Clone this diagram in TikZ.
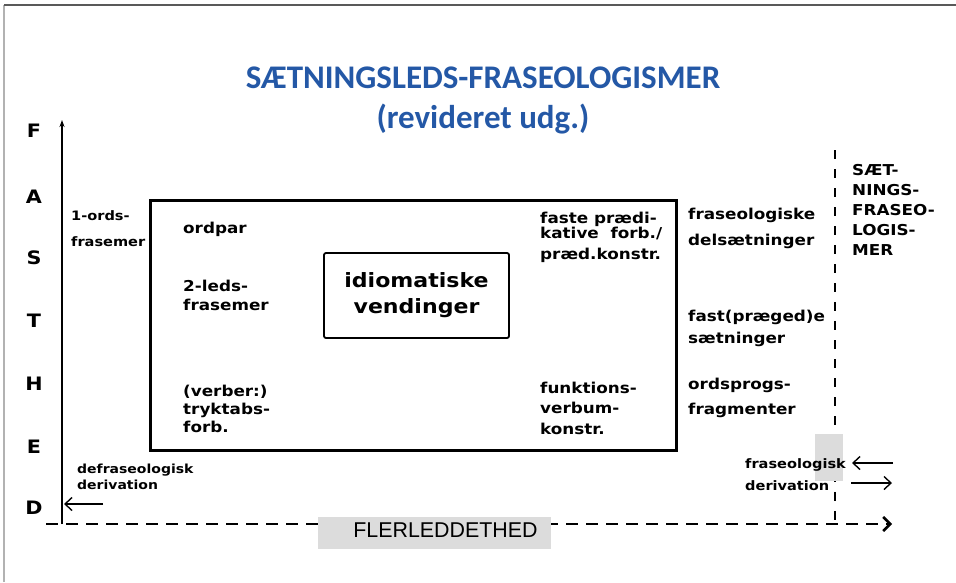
\documentclass[tikz,border=0pt]{standalone}
\usepackage{fontspec}
\setmainfont[FakeStretch=1.12]{DejaVu Sans}
\newfontfamily\titlefont{Carlito}
\newfontfamily\axisfont{Liberation Sans}
\usetikzlibrary{arrows.meta}
\definecolor{titleblue}{RGB}{36,88,166}
\definecolor{boxgray}{RGB}{220,220,220}
\tikzset{
  lbl/.style={anchor=north west, inner sep=0pt, align=left, font=\bfseries\fontsize{15}{19}\selectfont},
  axletter/.style={inner sep=0pt, font=\bfseries\fontsize{18.5}{18.5}\selectfont},
  axisline/.style={line width=2pt},
  dashline/.style={line width=2.6pt, dash pattern=on 12pt off 8pt},
  vdashline/.style={line width=2.8pt, dash pattern=on 9pt off 10pt},
  thinarrow/.style={line width=1.4pt, -{Straight Barb[length=7pt,width=13pt,line width=1.4pt]}},
}
\begin{document}
\begin{tikzpicture}[x=1pt,y=-1pt]
\useasboundingbox (0,0) rectangle (956,582);
% frame
\draw[gray!60, line width=1.5pt] (4,582) -- (4,5);
\draw[black!65, line width=1.5pt] (4,5) -- (956,5);
% title
\node[font=\titlefont\bfseries\fontsize{33}{39.5}\selectfont, text=titleblue, align=center, inner sep=0pt] (title) at (483,100.5) {SÆTNINGSLEDS-FRASEOLOGISMER\\(revideret udg.)};
% axes
\coordinate (origin) at (62,524);
\coordinate (ytop) at (62,120);
\coordinate (xleft) at (46,524);
\coordinate (xright) at (892,524);
\coordinate (vtop) at (835,150);
\coordinate (vbot) at (835,524);
\draw[dashline, -{Straight Barb[length=7pt,width=14pt,line width=2.6pt]}] (xleft) -- (xright);
\draw[vdashline] (vtop) -- (vbot);
\draw[axisline, -{Stealth[length=7pt,width=5pt]}] (origin) -- (ytop);
% FLERLEDDETHED box
\node[fill=boxgray, minimum width=233pt, minimum height=32pt, inner sep=0pt] (flbox) at (434.5,533) {};
\node[font=\axisfont\fontsize{21.4}{21.4}\selectfont, inner sep=0pt] (fltext) at (445.5,530) {FLERLEDDETHED};
% right gray box
\node[fill=boxgray, minimum width=28pt, minimum height=47pt, inner sep=0pt] (rbox) at (829,457.5) {};
% axis letters
\node[axletter] (lF) at (34,131) {F};
\node[axletter] (lA) at (34,197) {A};
\node[axletter] (lS) at (34,258) {S};
\node[axletter] (lT) at (34,321) {T};
\node[axletter] (lH) at (34,384) {H};
\node[axletter] (lE) at (34,447) {E};
\node[axletter] (lD) at (34,508) {D};
% big rectangle
\node[draw, line width=3pt, minimum width=526pt, minimum height=250pt, inner sep=0pt] (bigbox) at (413,325) {};
\node[draw, line width=1.8pt, rounded corners=2pt, minimum width=185pt, minimum height=85pt, inner sep=0pt, align=center, font=\bfseries\fontsize{19.7}{26}\selectfont] (idiom) at (416.5,295.5) {idiomatiske\\vendinger};
% labels
\node[lbl, font=\bfseries\fontsize{13}{26}\selectfont] (ords) at (71,210.5) {1-ords-\\frasemer};
\node[lbl, font=\bfseries\fontsize{12.5}{16}\selectfont] (defr) at (77,463.5) {defraseologisk\\derivation};
\node[lbl] (ordpar) at (183,221.5) {ordpar};
\node[lbl] (leds) at (183,279.5) {2-leds-\\frasemer};
\node[lbl, font=\bfseries\fontsize{15}{18}\selectfont] (verber) at (183,384.5) {(verber:)\\tryktabs-\\forb.};
\node[lbl, font=\bfseries\fontsize{15}{21}\selectfont] (faste) at (540,211.5) {faste prædi-\\[-6pt]kative\ \ forb./\\præd.konstr.};
\node[lbl, font=\bfseries\fontsize{15}{20.5}\selectfont] (funk) at (540,381.5) {funktions-\\verbum-\\konstr.};
\node[lbl, font=\bfseries\fontsize{15}{26}\selectfont] (delsaet) at (688,207.5) {fraseologiske\\delsætninger};
\node[lbl, font=\bfseries\fontsize{15}{22}\selectfont] (fastp) at (688,309.5) {fast(præged)e\\sætninger};
\node[lbl, font=\bfseries\fontsize{15}{25}\selectfont] (ordspr) at (688,377.5) {ordsprogs-\\fragmenter};
\node[lbl, font=\bfseries\fontsize{15}{20}\selectfont] (saet) at (852,164) {SÆT-\\NINGS-\\FRASEO-\\LOGIS-\\MER};
\node[lbl, font=\bfseries\fontsize{13}{22}\selectfont] (frder) at (745,458.5) {fraseologisk\\derivation};
% derivation arrows
\coordinate (dA) at (103,504);
\coordinate (dB) at (64,504);
\draw[thinarrow] (dA) -- (dB);
\coordinate (rA1) at (893,463);
\coordinate (rB1) at (852,463);
\draw[thinarrow] (rA1) -- (rB1);
\coordinate (rA2) at (851,483);
\coordinate (rB2) at (892,483);
\draw[thinarrow] (rA2) -- (rB2);
\end{tikzpicture}
\end{document}
